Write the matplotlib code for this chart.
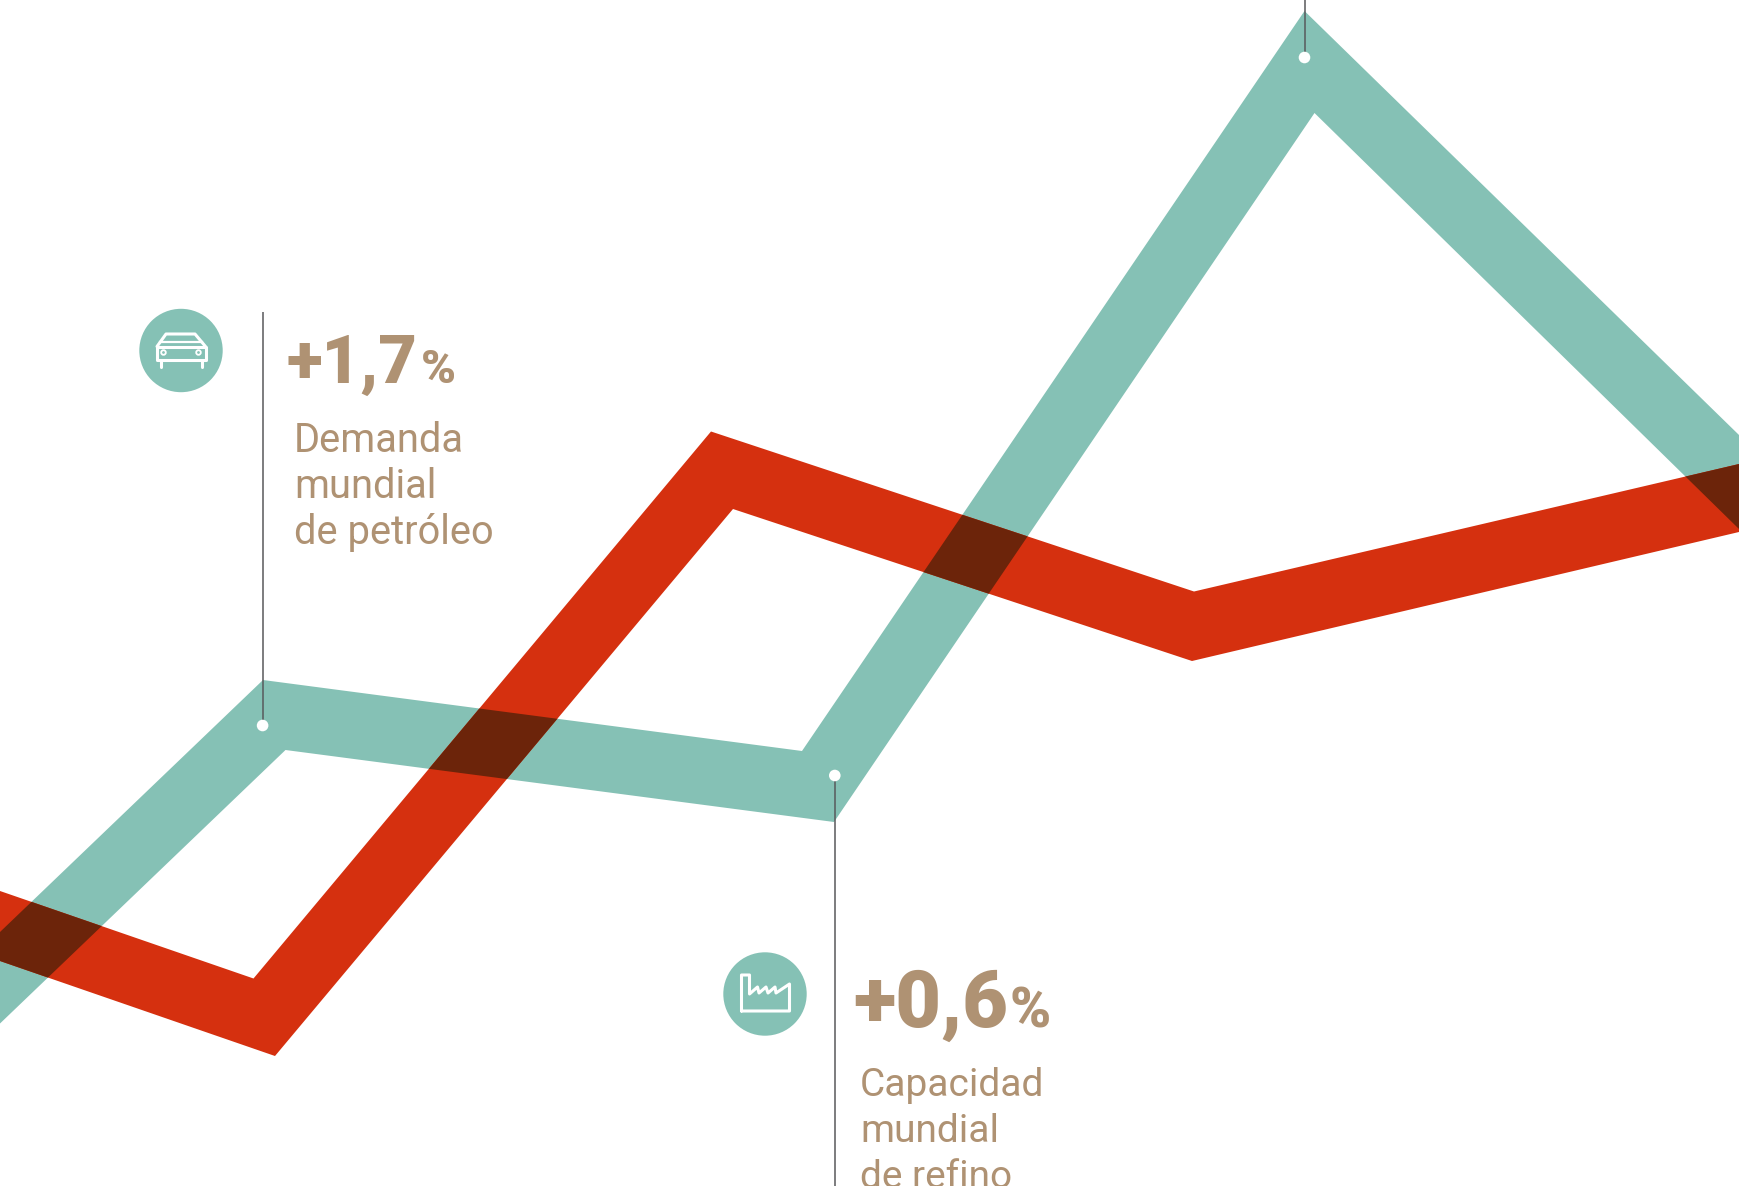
import matplotlib
matplotlib.use("Agg")
import matplotlib.pyplot as plt
from matplotlib.patches import Polygon, Circle

W, H = 1739, 1186

# Ribbon edges (pixel-like chart units)
teal_x_top = [0, 263, 802, 1304.5, 1739]
teal_y_top = [932, 680, 751, 11, 435]
teal_x_bot = [0, 285.5, 834, 1314.5, 1739]
teal_y_bot = [1023.5, 750, 822, 113, 529]

red_x_top = [0, 253.5, 711, 1194, 1739]
red_y_top = [891, 978.5, 431.5, 591.5, 464]
red_x_bot = [0, 275, 733, 1192, 1739]
red_y_bot = [961, 1056, 509, 661, 532]

# Annotations
values = ["+1,7", "+0,6"]
labels = [["Demanda", "mundial", "de petróleo"],
          ["Capacidad", "mundial", "de refino"]]

TEAL = "#85C1B5"
RED = "#D5300F"
DARK = "#6C240A"
TAN = "#AF9273"
LINE = "#58595B"
FONT = "Roboto"

fig = plt.figure(figsize=(W / 100, H / 100), dpi=100, facecolor="white")
ax = fig.add_axes([0, 0, 1, 1])
ax.set_xlim(0, W)
ax.set_ylim(H, 0)
ax.axis("off")


def ribbon(xt, yt, xb, yb):
    return list(zip(xt, yt)) + list(zip(xb, yb))[::-1]


teal_pts = ribbon(teal_x_top, teal_y_top, teal_x_bot, teal_y_bot)
red_pts = ribbon(red_x_top, red_y_top, red_x_bot, red_y_bot)

ax.add_patch(Polygon(teal_pts, closed=True, fc=TEAL, ec="none", zorder=1))
ax.add_patch(Polygon(red_pts, closed=True, fc=RED, ec="none", zorder=2))
overlap = Polygon(red_pts, closed=True, fc=DARK, ec="none", zorder=3)
ax.add_patch(overlap)
overlap.set_clip_path(Polygon(teal_pts, closed=True, transform=ax.transData))

# Leader lines and dots
for x, y0, y1, yd in [(262.6, 312, 725.5, 725.5), (834.8, 775.5, H, 775.5), (1304.5, 0, 57.5, 57.5)]:
    ax.plot([x, x], [y0, y1], color=LINE, lw=1.1, zorder=4, solid_capstyle="butt")
    ax.add_patch(Circle((x, yd), 5.8, fc="white", ec="none", zorder=5))

# Icon discs
ax.add_patch(Circle((181, 350.5), 41.7, fc=TEAL, ec="none", zorder=4))
ax.add_patch(Circle((765, 994), 41.7, fc=TEAL, ec="none", zorder=4))

ic = dict(color="white", lw=2.2, zorder=6, solid_joinstyle="round", solid_capstyle="round")
# Car
ax.plot([157, 205.5, 205.5, 157, 157], [346.5, 346.5, 359.5, 359.5, 346.5], **ic)
ax.plot([157, 166, 195, 205.5], [346.5, 334, 334, 346.5], **ic)
ax.plot([160, 202], [342, 342], color="white", lw=1.6, zorder=6)
ax.plot([160.5, 160.5], [359.5, 367], **ic)
ax.plot([201.5, 201.5], [359.5, 367], **ic)
for cx in (163.5, 198.5):
    ax.add_patch(Circle((cx, 352.5), 2.3, fc=TEAL, ec="white", lw=1.3, zorder=6))
# Factory
ax.plot([741.5, 741.5, 749.5, 749.5, 757.5, 759, 766, 768, 775, 776, 789.5, 789.5, 741.5],
        [1011, 975, 975, 994, 987, 993, 987, 993, 987, 993, 984, 1011, 1011], **ic)

# Numbers
num = dict(color=TAN, family=FONT, weight="black", zorder=6, va="baseline", ha="left")
txt = dict(color=TAN, family=FONT, weight="normal", zorder=6, va="baseline", ha="left")

ax.text(286, 383, values[0], fontsize=48, **num)
ax.text(421, 383, "%", fontsize=34, **num)
ax.text(853, 1027, values[1], fontsize=57, **num)
ax.text(1010, 1027, "%", fontsize=40, **num)

for s, y in zip(labels[0], [452, 498, 544]):
    ax.text(294, y, s, fontsize=28.7, **txt)
for s, y in zip(labels[1], [1096, 1142, 1188]):
    ax.text(860, y, s, fontsize=28, **txt)

fig.savefig("out.png", dpi=100, facecolor="white")
